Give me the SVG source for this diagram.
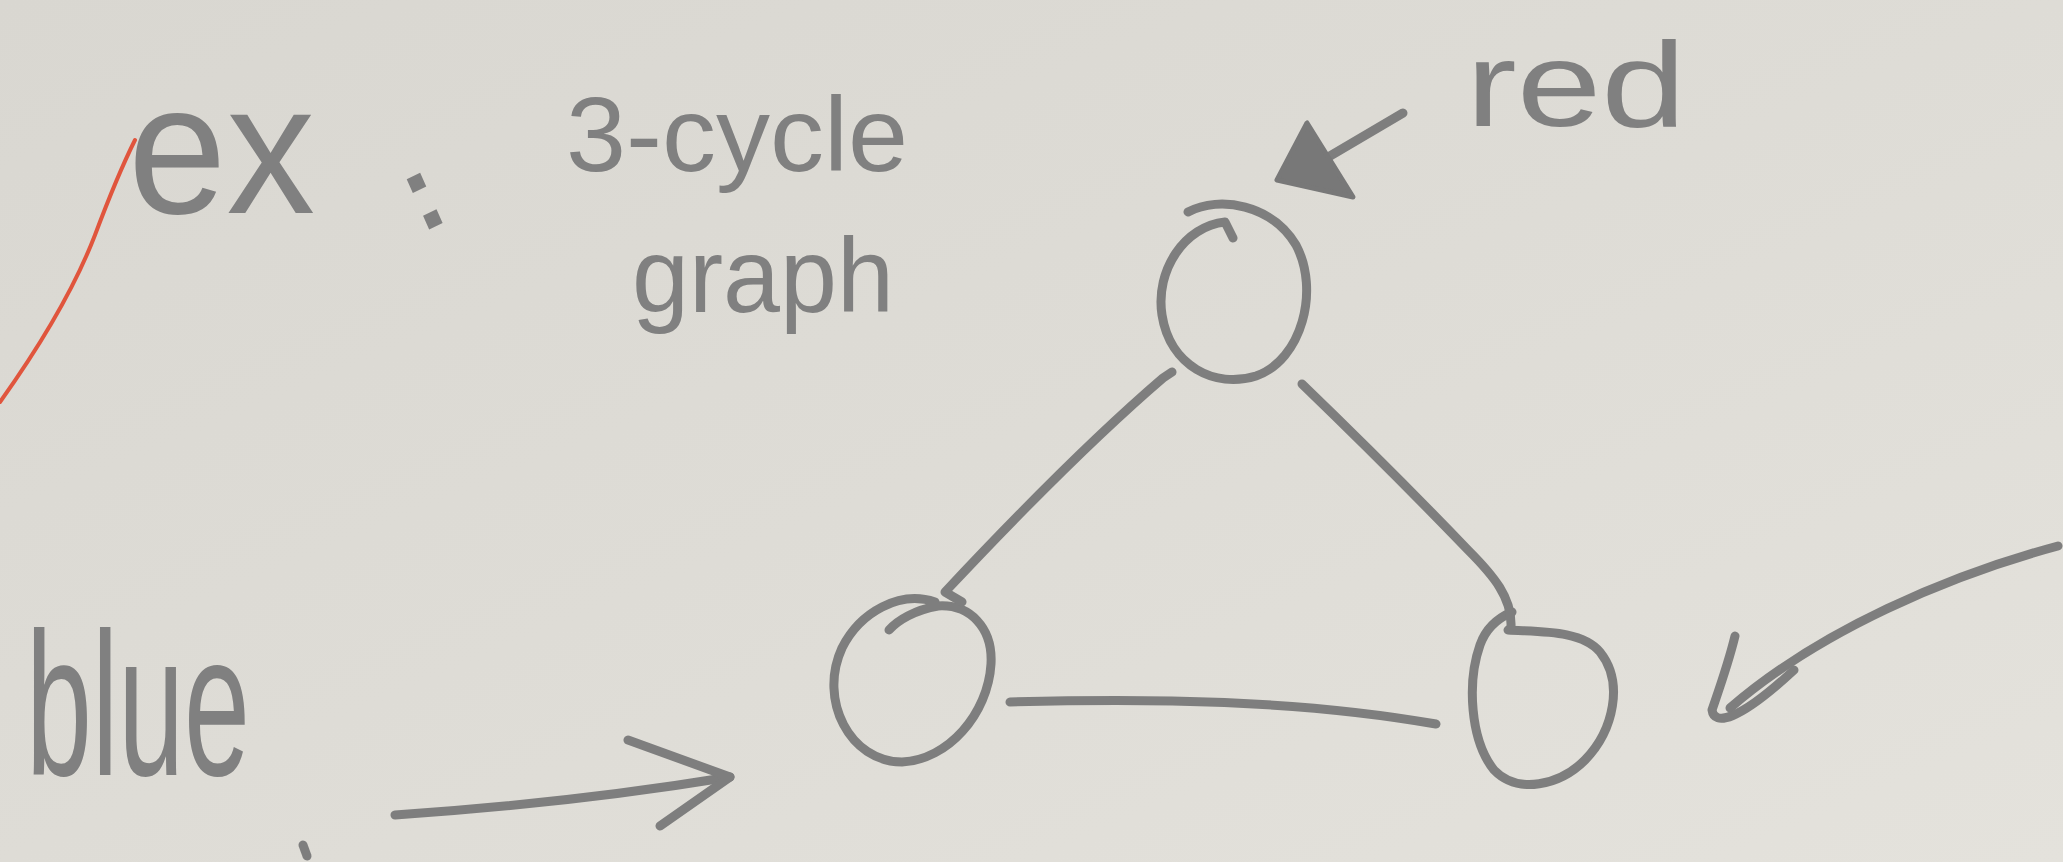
<svg xmlns="http://www.w3.org/2000/svg" width="2063" height="862" viewBox="0 0 2063 862">
<defs>
<linearGradient id="paper" x1="0" y1="0" x2="1" y2="1">
<stop offset="0" stop-color="#d9d7d1"/>
<stop offset="0.5" stop-color="#dedcd6"/>
<stop offset="1" stop-color="#e4e2dc"/>
</linearGradient>
<style>
.pen{fill:none;stroke:#7e7e7e;stroke-width:9;stroke-linecap:round;stroke-linejoin:round}
.txt{fill:#808080;font-family:"Liberation Sans","DejaVu Sans",sans-serif}
</style>
</defs>
<rect width="2063" height="862" fill="url(#paper)"/>
<path d="M0,402 C30,360 70,300 95,235 C110,195 125,160 135,140" fill="none" stroke="#e0553d" stroke-width="4" stroke-linecap="round"/>
<g id="labels">
<text class="txt" x="128" y="213" font-size="185" textLength="222" lengthAdjust="spacingAndGlyphs">ex<tspan x="420" y="234" font-size="110" font-weight="bold" rotate="-25">:</tspan></text>
<text class="txt" x="566" y="171" font-size="105" textLength="342" lengthAdjust="spacingAndGlyphs">3-cycle</text>
<text class="txt" x="632" y="312" font-size="105" textLength="262" lengthAdjust="spacingAndGlyphs">graph</text>
<text class="txt" x="1466" y="126" font-size="120" textLength="220" lengthAdjust="spacingAndGlyphs">red</text>
<text class="txt" x="26" y="775" font-size="205" textLength="224" lengthAdjust="spacingAndGlyphs">blue</text>
</g>
<g id="node-top">
<path class="pen" stroke-width="8" d="M1188,212 C1220,195 1272,205 1296,245 C1320,290 1302,360 1256,376 C1215,389 1170,366 1162,315 C1155,270 1185,226 1225,222 L1233,238"/>
</g>
<g id="node-left">
<path class="pen" d="M935,602 C900,590 860,612 842,648 C818,700 850,762 902,762 C948,760 988,714 991,664 C993,628 970,604 938,606 C915,610 898,620 889,630"/>
</g>
<g id="node-right">
<path class="pen" d="M1508,630 C1540,632 1582,630 1600,652 C1624,682 1614,730 1585,760 C1560,785 1518,795 1494,770 C1470,740 1467,682 1480,645 C1486,628 1498,618 1512,612"/>
</g>
<g id="connectors">
<path class="pen" stroke-width="10" d="M1172,372 L1163,378 C1100,432 1020,512 945,592 L962,602"/>
<path class="pen" stroke-width="10" d="M1302,384 C1360,440 1420,500 1468,550 C1494,576 1512,598 1511,626"/>
<path class="pen" stroke-width="11" d="M1010,702 C1150,698 1300,700 1436,724"/>
<path class="pen" stroke-width="10" d="M395,815 C500,808 620,795 730,777"/>
<path class="pen" stroke-width="7" d="M628,740 L730,777 L660,826"/>
<path class="pen" stroke-width="9" d="M1403,113 L1330,156"/>
<polygon points="1307,123 1277,180 1353,197" fill="#787878" stroke="#787878" stroke-width="5" stroke-linejoin="round"/>
<path class="pen" stroke-width="10" d="M2058,546 C1950,575 1820,630 1730,708"/>
<path class="pen" stroke-width="9" d="M1735,636 C1728,665 1716,698 1712,710 C1714,726 1738,722 1794,670"/>
<path class="pen" stroke-width="5" d="M303,845 L307,856"/>
</g>
</svg>
